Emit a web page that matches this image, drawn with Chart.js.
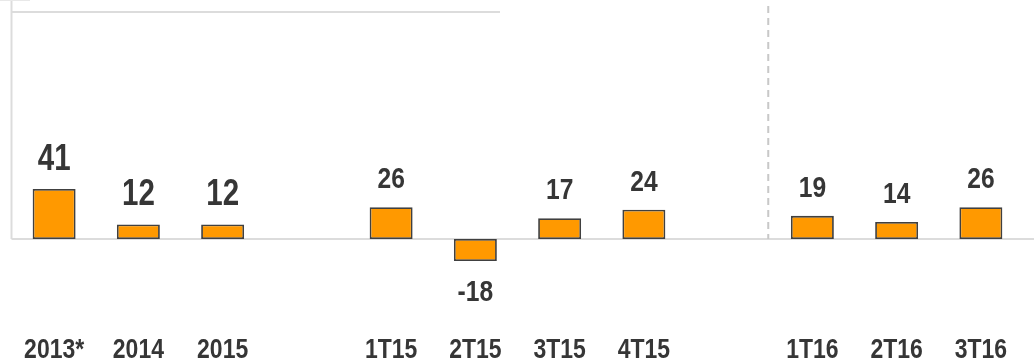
<!DOCTYPE html>
<html><head><meta charset="utf-8">
<script src="https://cdn.jsdelivr.net/npm/chart.js@4.4.1/dist/chart.umd.min.js"></script>
<style>html,body{margin:0;padding:0;background:#fff;overflow:hidden}#wrap{width:1034px;height:358px;position:relative}</style>
</head><body><div id="wrap"><canvas id="c" width="1034" height="358"></canvas></div>
<script>
const categories = ['2013*', '2014', '2015', '', '1T15', '2T15', '3T15', '4T15', '', '1T16', '2T16', '3T16'];
const values = [41, 12, 12, null, 26, -18, 17, 24, null, 19, 14, 26];
const yMin = -50, yMax = 196;

const FONT = "'Liberation Sans',Arial,sans-serif";
const TEXT = '#363636';
const SQUEEZE = 0.82;

function narrowText(ctx, text, x, y) {
  ctx.save();
  ctx.translate(x, y);
  ctx.scale(SQUEEZE, 1);
  ctx.fillText(text, 0, 0);
  ctx.restore();
}

const decor = {
  id: 'decor',
  beforeDatasetsDraw(chart) {
    const {ctx, chartArea: a, scales: {x, y}} = chart;
    const zeroY = y.getPixelForValue(0);
    const lx = a.left - 0.5;
    ctx.save();
    ctx.strokeStyle = '#dcdcdc';
    ctx.lineWidth = 2;
    ctx.beginPath(); ctx.moveTo(lx, zeroY); ctx.lineTo(chart.width, zeroY); ctx.stroke();
    ctx.beginPath(); ctx.moveTo(lx, 0); ctx.lineTo(lx, zeroY); ctx.stroke();
    ctx.beginPath(); ctx.moveTo(lx, 12); ctx.lineTo(500, 12); ctx.stroke();
    ctx.lineWidth = 1;
    ctx.strokeStyle = '#e8e8e8';
    ctx.beginPath(); ctx.moveTo(0, 0.5); ctx.lineTo(30, 0.5); ctx.stroke();
    const sx = (x.getPixelForValue(8) + x.getPixelForValue(9)) / 2 - 2;
    ctx.lineWidth = 2;
    ctx.setLineDash([7, 5]);
    ctx.strokeStyle = '#c8c8c8';
    ctx.beginPath(); ctx.moveTo(sx, 6); ctx.lineTo(sx, zeroY); ctx.stroke();
    ctx.restore();
  },
  afterDatasetsDraw(chart) {
    const {ctx, scales: {x}} = chart;
    const meta = chart.getDatasetMeta(0);
    ctx.save();
    ctx.fillStyle = TEXT;
    ctx.textAlign = 'center';
    ctx.textBaseline = 'alphabetic';
    meta.data.forEach((bar, i) => {
      const v = values[i];
      if (v === null || v === undefined) return;
      const size = i < 3 ? 36 : 30;
      ctx.font = 'bold ' + size + 'px ' + FONT;
      const yy = v >= 0 ? bar.y - 19 : bar.y + 19 + size * 0.716;
      narrowText(ctx, String(v), bar.x, yy);
    });
    ctx.font = 'bold 28px ' + FONT;
    categories.forEach((c, i) => {
      if (!c) return;
      narrowText(ctx, c, x.getPixelForValue(i), 357.5);
    });
    ctx.restore();
  }
};

new Chart(document.getElementById('c'), {
  type: 'bar',
  data: {
    labels: categories,
    datasets: [{
      data: values,
      backgroundColor: '#FF9900',
      borderColor: '#404040',
      borderWidth: 1.8,
      borderSkipped: false,
      barPercentage: 0.51,
      categoryPercentage: 1
    }]
  },
  options: {
    responsive: false,
    animation: false,
    layout: {autoPadding: false, padding: {left: 12, right: 11, top: 0, bottom: 0}},
    plugins: {legend: {display: false}, tooltip: {enabled: false}},
    scales: {
      x: {
        grid: {display: false, drawTicks: false},
        border: {display: false},
        ticks: {display: false},
        afterFit(scale) { scale.height = 58; }
      },
      y: {
        display: false,
        min: yMin, max: yMax
      }
    }
  },
  plugins: [decor]
});
</script>
</body></html>
